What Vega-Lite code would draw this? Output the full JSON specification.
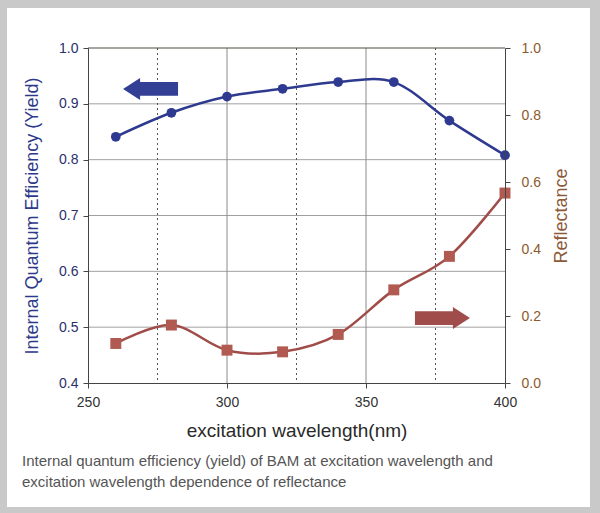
{
  "$schema": "https://vega.github.io/schema/vega-lite/v6.json",
  "width": 417,
  "height": 335,
  "autosize": {"type": "none"},
  "padding": {"left": 88, "top": 48, "right": 95, "bottom": 130},
  "background": "#c9c9c9",
  "config": {"view": {"stroke": null}, "font": "Liberation Sans"},
  "datasets": {
    "yield": [
      {"wl": 260, "yield": 0.841},
      {"wl": 280, "yield": 0.884},
      {"wl": 300, "yield": 0.913},
      {"wl": 320, "yield": 0.927},
      {"wl": 340, "yield": 0.939},
      {"wl": 360, "yield": 0.939},
      {"wl": 380, "yield": 0.870},
      {"wl": 400, "yield": 0.808}
    ],
    "refl": [
      {"wl": 260, "refl": 0.118},
      {"wl": 280, "refl": 0.173},
      {"wl": 300, "refl": 0.098},
      {"wl": 320, "refl": 0.093},
      {"wl": 340, "refl": 0.145},
      {"wl": 360, "refl": 0.278},
      {"wl": 380, "refl": 0.378},
      {"wl": 400, "refl": 0.567}
    ],
    "hgrid": [{"g": 0.5}, {"g": 0.6}, {"g": 0.7}, {"g": 0.8}, {"g": 0.9}],
    "vsolid": [{"g": 300}, {"g": 350}],
    "vdot": [{"g": 275}, {"g": 325}, {"g": 375}],
    "one": [{}]
  },
  "title": {
    "text": ["Internal quantum efficiency (yield) of BAM at excitation wavelength and", "excitation wavelength dependence of reflectance"],
    "orient": "bottom",
    "anchor": "start",
    "frame": "group",
    "dx": -66,
    "offset": -53,
    "font": "Liberation Sans",
    "fontSize": 15,
    "fontWeight": "normal",
    "color": "#555555",
    "lineHeight": 21,
    "zindex": 1
  },
  "layer": [
    {
      "layer": [
        {
          "data": {"name": "one"},
          "mark": {"type": "rect", "color": "white"},
          "encoding": {
            "x": {"datum": 220.86, "type": "quantitative", "scale": {"domain": [250, 400], "nice": false, "zero": false}},
            "x2": {"datum": 430.58},
            "y": {"datum": 1.0716, "type": "quantitative", "scale": {"domain": [0.4, 1.0], "nice": false, "zero": false}},
            "y2": {"datum": 0.1779}
          }
        },
        {
          "data": {"name": "hgrid"},
          "mark": {"type": "rule", "color": "#a0a0a0", "strokeWidth": 1},
          "encoding": {"y": {"field": "g", "type": "quantitative"}}
        },
        {
          "data": {"name": "vsolid"},
          "mark": {"type": "rule", "color": "#8a8a8a", "strokeWidth": 1},
          "encoding": {"x": {"field": "g", "type": "quantitative"}}
        },
        {
          "data": {"name": "vdot"},
          "mark": {"type": "rule", "color": "#555555", "strokeWidth": 1, "strokeDash": [2, 3]},
          "encoding": {"x": {"field": "g", "type": "quantitative"}}
        },
        {
          "data": {"name": "one"},
          "mark": {"type": "rule", "color": "#4a5040", "strokeWidth": 1.2},
          "encoding": {"y": {"datum": 1.0, "type": "quantitative"}}
        },
        {
          "data": {"name": "yield"},
          "mark": {"type": "line", "interpolate": "cardinal", "color": "#2e3a8f", "strokeWidth": 2.5,
                   "point": {"filled": true, "size": 95, "color": "#2e3a8f"}},
          "encoding": {
            "x": {
              "field": "wl", "type": "quantitative",
              "axis": {
                "title": "excitation wavelength(nm)", "values": [250, 300, 350, 400], "grid": false, "labelFlush": false,
                "zindex": 1, "domainColor": "#444", "tickColor": "#444", "tickSize": 5,
                "labelFontSize": 14, "labelColor": "#333333", "labelPadding": 7,
                "titleFontSize": 19, "titleFontWeight": "normal", "titleColor": "#2a2a2a", "titlePadding": 12
              }
            },
            "y": {
              "field": "yield", "type": "quantitative",
              "axis": {
                "title": "Internal Quantum Efficiency (Yield)", "values": [0.4, 0.5, 0.6, 0.7, 0.8, 0.9, 1.0], "format": ".1f",
                "grid": false, "zindex": 1, "domainColor": "#444", "tickColor": "#444", "tickSize": 5,
                "labelFontSize": 14, "labelColor": "#2a2f6e", "labelPadding": 5,
                "titleFontSize": 18, "titleFontWeight": "normal", "titleColor": "#2d3a8c", "titlePadding": 17
              }
            }
          }
        },
        {
          "data": {"name": "one"},
          "mark": {"type": "point", "filled": true, "opacity": 1, "color": "#323f94",
                   "shape": "M-1,0L-0.38,-0.4L-0.38,-0.25L1,-0.25L1,0.25L-0.38,0.25L-0.38,0.4Z", "size": 3025},
          "encoding": {"x": {"datum": 272.5, "type": "quantitative"}, "y": {"datum": 0.9266, "type": "quantitative"}}
        },
        {
          "data": {"name": "one"},
          "mark": {"type": "point", "filled": true, "opacity": 1, "color": "#a04c4a",
                   "shape": "M1,0L0.38,-0.4L0.38,-0.25L-1,-0.25L-1,0.25L0.38,0.25L0.38,0.4Z", "size": 3025},
          "encoding": {"x": {"datum": 377.5, "type": "quantitative"}, "y": {"datum": 0.5164, "type": "quantitative"}}
        }
      ]
    },
    {
      "data": {"name": "refl"},
      "mark": {"type": "line", "interpolate": "cardinal", "color": "#a04c48", "strokeWidth": 2.5,
               "point": {"filled": true, "shape": "square", "size": 120, "color": "#b05a52"}},
      "encoding": {
        "x": {"field": "wl", "type": "quantitative"},
        "y": {
          "field": "refl", "type": "quantitative",
          "scale": {"domain": [0, 1], "nice": false},
          "axis": {
            "orient": "right", "title": "Reflectance", "values": [0, 0.2, 0.4, 0.6, 0.8, 1.0], "format": ".1f",
            "grid": false, "zindex": 1, "domainColor": "#444", "tickColor": "#444", "tickSize": 5,
            "labelFontSize": 14, "labelColor": "#8c5a2e", "labelPadding": 11,
            "titleFontSize": 18, "titleFontWeight": "normal", "titleColor": "#8c5a3a", "titlePadding": 12,
            "titleAngle": 270, "titleBaseline": "top"
          }
        }
      }
    }
  ],
  "resolve": {"scale": {"y": "independent"}}
}
